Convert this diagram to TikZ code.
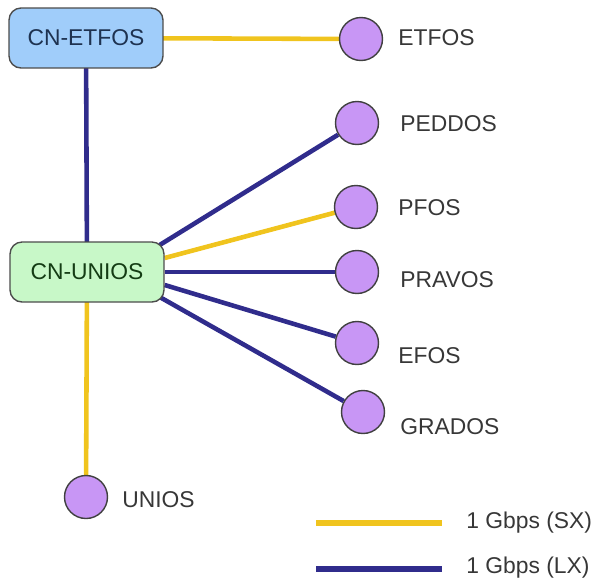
\documentclass[tikz,border=0pt]{standalone}
\usepackage{fontspec}
\setmainfont{Liberation Sans}
\usetikzlibrary{backgrounds}

% link colours
\definecolor{sxcol}{RGB}{240,196,30}
\definecolor{lxcol}{RGB}{48,44,140}
\definecolor{etfill}{RGB}{160,205,250}
\definecolor{unfill}{RGB}{200,248,200}
\definecolor{sitecol}{RGB}{200,150,245}
\definecolor{txtcol}{RGB}{55,55,55}

\begin{document}
\begin{tikzpicture}[x=0.02cm, y=-0.02cm]

    % Common styles
    \tikzset{
        corenode/.style={draw=black!70, line width=0.8pt, rounded corners=0.24cm,
            minimum width=3.08cm, minimum height=1.2cm,
            font=\fontsize{13}{15}\selectfont},
        site/.style={circle, draw=black!75, line width=0.8pt, fill=sitecol,
            minimum size=0.86cm, inner sep=0pt},
        sitelabel/.style={anchor=west, inner sep=0pt, text=txtcol,
            font=\fontsize{13}{15}\selectfont},
        sxlink/.style={sxcol, line width=2.6pt},
        lxlink/.style={lxcol, line width=2.6pt}
    }

    \useasboundingbox (0,0) rectangle (598,582);

    % ================== core switches ==================
    \node[corenode, fill=etfill, text={rgb,255:red,30;green,50;blue,80}]
        (cnetfos) at (86,38) {CN-ETFOS};
    \node[corenode, fill=unfill, text={rgb,255:red,20;green,60;blue,20}]
        (cnunios) at (87,272) {CN-UNIOS};

    % ================== sites ==================
    \node[site] (etfos)  at (361,39)  {};
    \node[site] (peddos) at (357,123) {};
    \node[site] (pfos)   at (356,207) {};
    \node[site] (pravos) at (357,272) {};
    \node[site] (efos)   at (357,343) {};
    \node[site] (grados) at (363,412) {};
    \node[site] (unios)  at (86,497)  {};

    \node[sitelabel] (etfos-lbl)  at (398,38)  {ETFOS};
    \node[sitelabel] (peddos-lbl) at (400,124) {PEDDOS};
    \node[sitelabel] (pfos-lbl)   at (398,208) {PFOS};
    \node[sitelabel] (pravos-lbl) at (400,280) {PRAVOS};
    \node[sitelabel] (efos-lbl)   at (398,356) {EFOS};
    \node[sitelabel] (grados-lbl) at (400,427) {GRADOS};
    \node[sitelabel] (unios-lbl)  at (122,500) {UNIOS};

    % ================== links ==================
    \begin{scope}[on background layer]
        \draw[sxlink] (cnetfos.center) -- (etfos);
        \draw[lxlink] (cnetfos.center) -- (cnunios.center);
        \draw[lxlink] ([xshift=-0.1cm, yshift=0.54cm]cnunios.east) -- (peddos);
        \draw[sxlink] ([yshift=0.28cm]cnunios.east) -- (pfos);
        \draw[lxlink] (cnunios.east) -- (pravos);
        \draw[lxlink] ([yshift=-0.26cm]cnunios.east) -- (efos);
        \draw[lxlink] ([xshift=-0.1cm, yshift=-0.5cm]cnunios.east) -- (grados);
        \draw[sxlink] (cnunios.center) -- (unios);
    \end{scope}

    % ================== legend ==================
    \coordinate (sx-a) at (316,523);
    \coordinate (sx-b) at (442,523);
    \coordinate (lx-a) at (316,569);
    \coordinate (lx-b) at (442,569);
    \draw[sxcol, line width=3pt] (sx-a) -- (sx-b);
    \draw[lxcol, line width=3pt] (lx-a) -- (lx-b);
    \node[sitelabel] (sx-lbl) at (466,523) {1 Gbps (SX)};
    \node[sitelabel] (lx-lbl) at (466,568) {1 Gbps (LX)};

\end{tikzpicture}
\end{document}
